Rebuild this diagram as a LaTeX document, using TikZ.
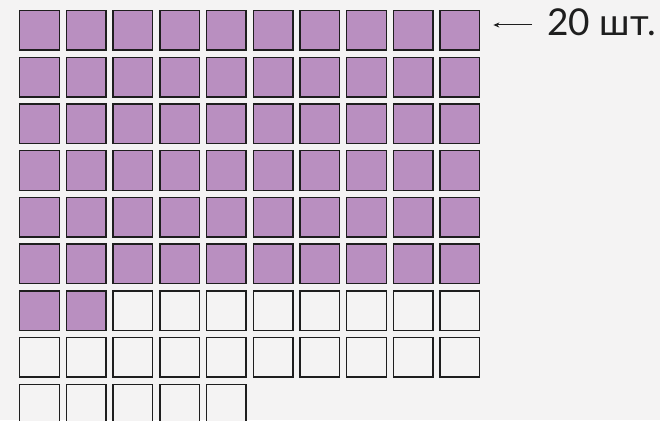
\documentclass[tikz,border=0pt]{standalone}
\usepackage{fontspec}
\setmainfont{Lato}
\usetikzlibrary{arrows.meta}
\definecolor{lilac}{HTML}{B98FC0}
\definecolor{paper}{HTML}{F4F3F3}
\definecolor{ink}{HTML}{1E1E1E}

\begin{document}
\begin{tikzpicture}[
        x=1pt, y=-1pt,
        cell/.style={draw=ink, line width=1.4pt, minimum size=39.6pt, inner sep=0pt},
        pointer/.style={-{Stealth[length=6pt, width=5pt]}, line width=1pt, draw=ink},
        caption/.style={anchor=west, inner sep=0pt, text=ink, font=\fontsize{37}{40}\selectfont}
    ]
    \fill[paper] (0,0) rectangle (660,420);
    \clip (0,0) rectangle (660,420);

    % 85 cells, the first 62 filled
    \foreach \r in {1,...,9}{
        \foreach \c in {1,...,10}{
            \pgfmathtruncatemacro{\n}{(\r-1)*10+\c}
            \ifnum\n>85 \else
                \ifnum\n>62 \def\tone{paper}\else\def\tone{lilac}\fi
                \node[cell, fill=\tone] (sq-\r-\c) at ({39.5+46.7*(\c-1)}, {30.4+46.7*(\r-1)}) {};
            \fi
        }
    }

    \node[caption] (lbl) at (547,22.5) {20 шт.};
    \coordinate (tip) at ([xshift=13pt, yshift=5.4pt]sq-1-10.east);
    \draw[pointer] ([xshift=-15pt, yshift=-2.5pt]lbl.west) -- (tip);

\end{tikzpicture}
\end{document}
